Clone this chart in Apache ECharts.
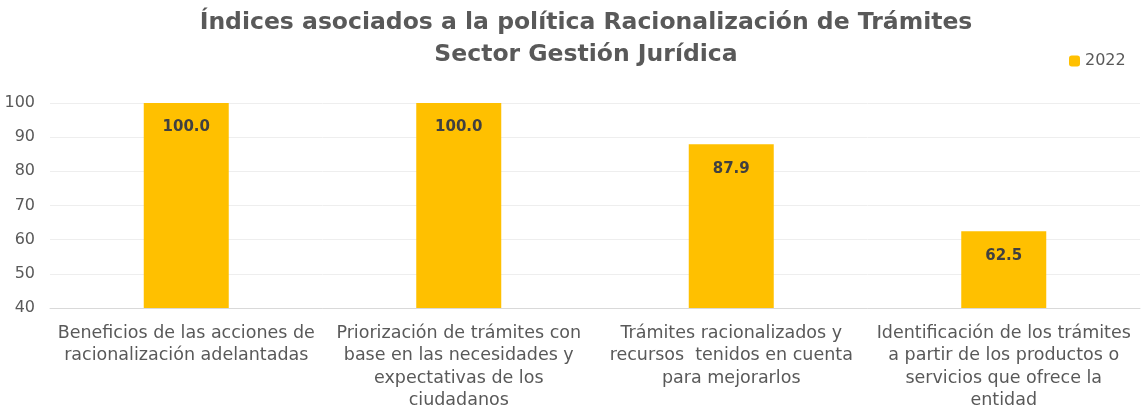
<!DOCTYPE html>
<html><head><meta charset="utf-8">
<script src="https://cdn.jsdelivr.net/npm/echarts@6/dist/echarts.min.js"></script>
<style>html,body{margin:0;padding:0;background:#fff}#c{width:1143px;height:414px}</style>
</head><body><div id="c"></div>
<script>
const categories = [
  "Beneficios de las acciones de\nracionalización adelantadas",
  "Priorización de trámites con\nbase en las necesidades y\nexpectativas de los\nciudadanos",
  "Trámites racionalizados y\nrecursos  tenidos en cuenta\npara mejorarlos",
  "Identificación de los trámites\na partir de los productos o\nservicios que ofrece la\nentidad"
];
const values2022 = [100.0, 100.0, 87.9, 62.5];
const seriesName = "2022";
const titleText = "Índices asociados a la política Racionalización de Trámites\nSector Gestión Jurídica";

const chart = echarts.init(document.getElementById('c'));
chart.setOption({
  animation: false,
  title: {
    text: titleText, left: 581, textAlign: 'center', top: 2,
    textStyle: {fontFamily: 'DejaVu Sans', fontSize: 23.5, fontWeight: 'bold', color: '#595959', lineHeight: 32}
  },
  legend: {
    data: [seriesName], left: 1064, top: 48, itemWidth: 11, itemHeight: 11, itemGap: 4,
    textStyle: {fontFamily: 'DejaVu Sans', fontSize: 16, color: '#595959'}
  },
  grid: {left: 50, right: 3, top: 103, bottom: 106},
  xAxis: {
    type: 'category', data: categories,
    axisLine: {lineStyle: {color: '#d9d9d9', width: 1}},
    axisTick: {show: false},
    axisLabel: {interval: 0, fontFamily: 'DejaVu Sans', fontSize: 17.5, color: '#595959', lineHeight: 22.5, margin: 14}
  },
  yAxis: {
    type: 'value', min: 40, max: 100, interval: 10,
    axisLine: {show: false}, axisTick: {show: false},
    splitLine: {lineStyle: {color: '#eeeeee'}},
    axisLabel: {fontFamily: 'DejaVu Sans', fontSize: 16, color: '#595959', margin: 15}
  },
  series: [{
    name: seriesName, type: 'bar', data: values2022, barWidth: 85,
    itemStyle: {color: '#FFC000'},
    label: {show: true, position: 'insideTop', distance: 17, formatter: p => p.value.toFixed(1),
      fontFamily: 'DejaVu Sans', fontSize: 15, fontWeight: 'bold', color: '#404040'}
  }]
});
</script></body></html>
